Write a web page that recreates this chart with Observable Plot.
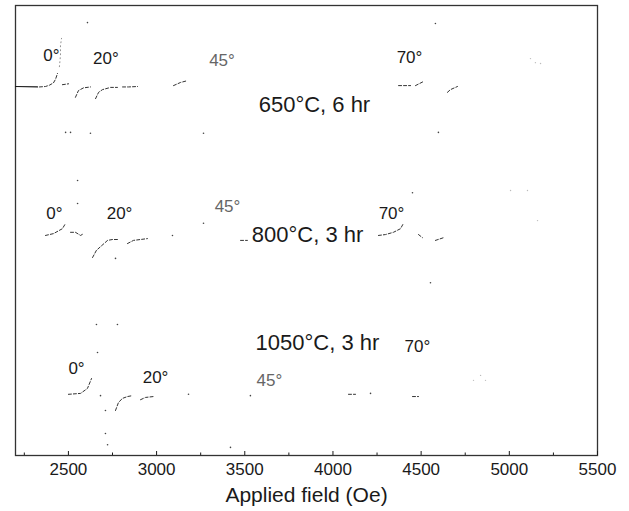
<!DOCTYPE html>
<html><head><meta charset="utf-8">
<script src="https://cdn.jsdelivr.net/npm/d3@7"></script>
<script src="https://cdn.jsdelivr.net/npm/@observablehq/plot@0.6"></script>
<style>body{margin:0;background:#fff}</style>
</head><body><div id="chart"></div>
<script>
// Axis
const fieldDomain = [2200, 5500];
const fieldTicks = [2500, 3000, 3500, 4000, 4500, 5000, 5500];
const minorTicks = [2250, 2750, 3250, 3750, 4250, 4750, 5250];
const axisTitle = "Applied field (Oe)";

// Sample labels
const sampleText = ["650°C, 6 hr", "800°C, 3 hr", "1050°C, 3 hr"];
const sampleField = [3895, 3856, 3912];
const sampleSignal = [77.8, 48.9, 25.1];

// Angle labels (three spectra groups)
const angleText   = ["0°", "20°", "45°", "70°",  "0°", "20°", "45°", "70°",  "0°", "20°", "45°", "70°"];
const angleField  = [2404, 2713, 3371, 4434,  2421, 2790, 3402, 4332,  2546, 2994, 3640, 4479];
const angleSignal = [88.9, 88.3, 87.8, 88.4,  53.8, 53.8, 55.3, 53.8,  19.3, 17.3, 16.7, 24.2];
const angleFaint  = [false, false, true, false,  false, false, true, false,  false, false, true, false];

// Surviving trace fragments: [segment, field (Oe), signal (arb.)]
const solid650 = [["b", 2200, 82.0], ["b", 2325, 81.9]];
const dashed650 = [
  ["0a", 2336, 81.9], ["0a", 2370, 82.0], ["0a", 2393, 82.3], ["0a", 2415, 82.8], ["0a", 2427, 83.6], ["0a", 2438, 84.9],
  ["0d", 2466, 82.4], ["0d", 2501, 82.6],
  ["20a", 2540, 79.6], ["20a", 2557, 81.1], ["20a", 2586, 81.7], ["20a", 2625, 81.9],
  ["20b", 2654, 79.3], ["20b", 2671, 80.7], ["20b", 2693, 81.3], ["20b", 2739, 81.8], ["20b", 2778, 81.8],
  ["20c", 2807, 81.9], ["20c", 2841, 81.9], ["20c", 2892, 82.0],
  ["45a", 3096, 82.2], ["45a", 3136, 82.9], ["45a", 3175, 83.3],
  ["70a", 4372, 82.2], ["70a", 4440, 82.2],
  ["70b", 4468, 82.2], ["70b", 4513, 83.1],
  ["70c", 4649, 80.7], ["70c", 4666, 81.3], ["70c", 4706, 82.0]
];
const dotted650 = [["0c", 2449, 86.4], ["0c", 2455, 88.9], ["0c", 2455, 91.1], ["0c", 2461, 92.7]];
const specks650 = [[2608, 96.2], [2484, 71.8], [2512, 71.8], [2625, 71.6], [3266, 71.6], [4598, 71.8], [4581, 96.0]];

const dashed800 = [
  ["0a", 2370, 48.9], ["0a", 2415, 49.3], ["0a", 2466, 50.4], ["0a", 2484, 51.6],
  ["0b", 2512, 49.6], ["0b", 2540, 49.6], ["0b", 2569, 48.9], ["0b", 2586, 49.3],
  ["20a", 2637, 44.0], ["20a", 2659, 45.6], ["20a", 2682, 46.4], ["20a", 2722, 47.8], ["20a", 2750, 48.0], ["20a", 2784, 48.0],
  ["20b", 2835, 47.1], ["20b", 2869, 47.8], ["20b", 2909, 48.0], ["20b", 2948, 48.2],
  ["45a", 3476, 47.8], ["45a", 3515, 47.8],
  ["70a", 4258, 48.9], ["70a", 4298, 49.1], ["70a", 4343, 49.6], ["70a", 4383, 50.4], ["70a", 4400, 51.6],
  ["70b", 4485, 49.1], ["70b", 4508, 48.4],
  ["70c", 4581, 47.8], ["70c", 4627, 48.4]
];
const specks800 = [[2552, 61.1], [2552, 56.0], [2767, 43.8], [3090, 48.9], [3266, 51.6], [4451, 58.4], [4553, 38.4]];

const dashed1050 = [
  ["0a", 2500, 13.6], ["0a", 2569, 13.8], ["0a", 2608, 14.9], ["0a", 2631, 17.1],
  ["20a", 2767, 10.0], ["20a", 2784, 11.8], ["20a", 2807, 12.7], ["20a", 2835, 13.1], ["20a", 2863, 13.3],
  ["20b", 2909, 12.4], ["20b", 2937, 12.9], ["20b", 2982, 13.1],
  ["45a", 4088, 13.6], ["45a", 4128, 13.6],
  ["70a", 4451, 13.1], ["70a", 4485, 13.1]
];
const specks1050 = [[2659, 29.1], [2778, 29.1], [2665, 22.9], [2682, 13.3], [2710, 10.0], [2710, 4.9], [2722, 2.4],
  [3181, 13.6], [3532, 13.3], [3419, 1.8], [4213, 13.8]];

const faintSpecks = [[5120, 88.2], [5148, 87.3], [5177, 87.1], [5007, 58.9], [5103, 58.9], [5160, 52.2],
  [4797, 16.7], [4837, 17.8], [4865, 16.7]];

// Build tables
const toRows = (arr, g) => arr.map(([s, f, v]) => ({seg: g + "-" + s, field: f, signal: v}));
const dashedRows = [...toRows(dashed650, "650"), ...toRows(dashed800, "800"), ...toRows(dashed1050, "1050")];
const solidRows = toRows(solid650, "650");
const dottedRows = toRows(dotted650, "650");
const speckRows = [...specks650, ...specks800, ...specks1050].map(([f, v]) => ({field: f, signal: v}));
const faintRows = faintSpecks.map(([f, v]) => ({field: f, signal: v}));
const sampleRows = sampleText.map((t, i) => ({t, field: sampleField[i], signal: sampleSignal[i]}));
const angleRows = angleText.map((t, i) => ({t, field: angleField[i], signal: angleSignal[i], faint: angleFaint[i]}));

const ink = "#1a1a1a";
const chart = Plot.plot({
  width: 629,
  height: 511,
  marginLeft: 15,
  marginRight: 32,
  marginTop: 5,
  marginBottom: 56,
  style: {fontFamily: "'Liberation Sans', Arial, Helvetica, sans-serif", background: "#fff", color: ink},
  x: {domain: fieldDomain, axis: null},
  y: {domain: [0, 100], axis: null},
  marks: [
    Plot.frame({stroke: "#333", strokeWidth: 1.3}),
    Plot.axisX(fieldTicks, {anchor: "bottom", tickSize: 4, dy: -4, tickFormat: () => "", label: null, stroke: ink}),
    Plot.axisX(minorTicks, {anchor: "bottom", tickSize: 2.5, dy: -2.5, tickFormat: () => "", label: null, stroke: ink}),
    Plot.axisX(fieldTicks, {anchor: "bottom", tickSize: 0, tickPadding: 7, fontSize: 17, label: null, tickFormat: d => String(d)}),
    Plot.text([axisTitle], {text: d => d, frameAnchor: "bottom", dy: 46, fontSize: 21, fill: ink}),
    Plot.line(solidRows, {x: "field", y: "signal", z: "seg", stroke: ink, strokeWidth: 1.2}),
    Plot.line(dashedRows, {x: "field", y: "signal", z: "seg", stroke: "#333", strokeWidth: 1, strokeDasharray: "3,2"}),
    Plot.line(dottedRows, {x: "field", y: "signal", z: "seg", stroke: "#777", strokeWidth: 0.8, strokeDasharray: "1,3"}),
    Plot.dot(speckRows, {x: "field", y: "signal", r: 0.8, fill: "#444", stroke: null}),
    Plot.dot(faintRows, {x: "field", y: "signal", r: 0.7, fill: "#bbb", stroke: null}),
    Plot.text(sampleRows, {x: "field", y: "signal", text: "t", fontSize: 22, fill: ink}),
    Plot.text(angleRows, {x: "field", y: "signal", text: "t", fontSize: 17, fill: d => d.faint ? "#666" : ink})
  ]
});
document.getElementById("chart").append(chart);
</script>
</body></html>
